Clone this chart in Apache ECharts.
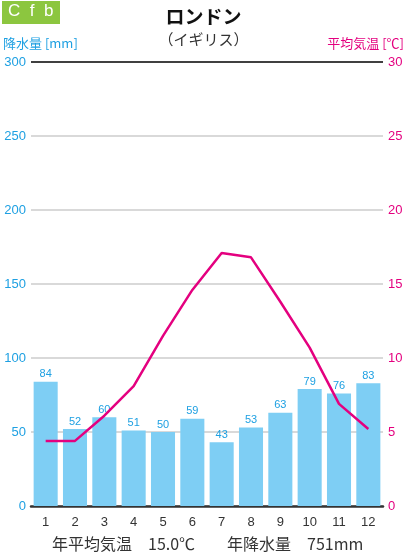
<!DOCTYPE html>
<html>
<head>
<meta charset="utf-8">
<script src="https://cdn.jsdelivr.net/npm/echarts@6/dist/echarts.min.js"></script>
<style>
html,body{margin:0;padding:0;background:#fff;}
#main{width:407px;height:557px;}
</style>
</head>
<body>
<div id="main"></div>
<script>
// climate data, London
var months = ['1','2','3','4','5','6','7','8','9','10','11','12'];
var precip = [84, 52, 60, 51, 50, 59, 43, 53, 63, 79, 76, 83];
var temp = [4.4, 4.4, 6.1, 8.1, 11.5, 14.6, 17.1, 16.8, 13.8, 10.7, 6.9, 5.2];
var cityName = 'ロンドン';
var countryName = '（イギリス）';
var climateCode = 'Cfb';
var summaryText = '年平均気温　15.0℃　　年降水量　751mm';

var blue = '#1ea0e2';
var pink = '#e4007f';
var jp = '"Noto Sans CJK JP", sans-serif';
var num = '"Liberation Sans", Arial, sans-serif';

var chartDom = document.getElementById('main');
var myChart = echarts.init(chartDom);
var option;

option = {
    animation: false,
    textStyle: {fontFamily: jp},
    title: {
        text: cityName,
        subtext: countryName,
        left: 'center',
        top: 2,
        itemGap: 6,
        textStyle: {fontSize: 19, fontWeight: 'bold', color: '#111', fontFamily: jp},
        subtextStyle: {fontSize: 15, color: '#333', fontFamily: jp}
    },
    grid: {left: 30, right: 23, top: 62, bottom: 51},
    xAxis: {
        type: 'category',
        data: months,
        axisLine: {lineStyle: {color: '#333', width: 2.5}},
        axisTick: {show: false},
        axisLabel: {color: '#333', fontSize: 13, margin: 10, fontFamily: num}
    },
    yAxis: [{
        type: 'value',
        min: 0, max: 300, interval: 50,
        name: '降水量 [mm]',
        nameLocation: 'end',
        nameGap: 12,
        nameTextStyle: {color: blue, fontSize: 13, align: 'left', padding: [0, 0, 0, -28]},
        axisLine: {show: false},
        axisTick: {show: false},
        axisLabel: {color: blue, fontSize: 13, margin: 5, fontFamily: num},
        splitLine: {lineStyle: {color: ['#ccc','#ccc','#ccc','#ccc','#ccc','#ccc','#000'], width: 1.5}}
    }, {
        type: 'value',
        min: 0, max: 30, interval: 5,
        name: '平均気温 [℃]',
        nameLocation: 'end',
        nameGap: 12,
        nameTextStyle: {color: pink, fontSize: 13, align: 'right', padding: [0, -21, 0, 0]},
        axisLine: {show: false},
        axisTick: {show: false},
        axisLabel: {color: pink, fontSize: 13, margin: 5, fontFamily: num},
        splitLine: {show: false}
    }],
    series: [{
        name: '降水量',
        type: 'bar',
        data: precip,
        barWidth: '82%',
        itemStyle: {color: '#7ecef4'},
        label: {show: true, position: 'top', color: blue, fontSize: 11, distance: 2, fontFamily: num}
    }, {
        name: '平均気温',
        type: 'line',
        yAxisIndex: 1,
        data: temp,
        symbol: 'none',
        lineStyle: {color: pink, width: 2.5}
    }],
    graphic: [{
        type: 'rect',
        left: 2, top: 1,
        shape: {width: 58, height: 23},
        style: {fill: '#8cc63f'}
    }, {
        type: 'text',
        left: 8, top: 3,
        style: {text: climateCode.split('').join('  '), fill: '#fff', fontSize: 17, fontFamily: num}
    }, {
        type: 'text',
        left: 52, top: 536,
        style: {text: summaryText, fill: '#333', fontSize: 16, fontFamily: jp}
    }]
};
option && myChart.setOption(option);
</script>
</body>
</html>
